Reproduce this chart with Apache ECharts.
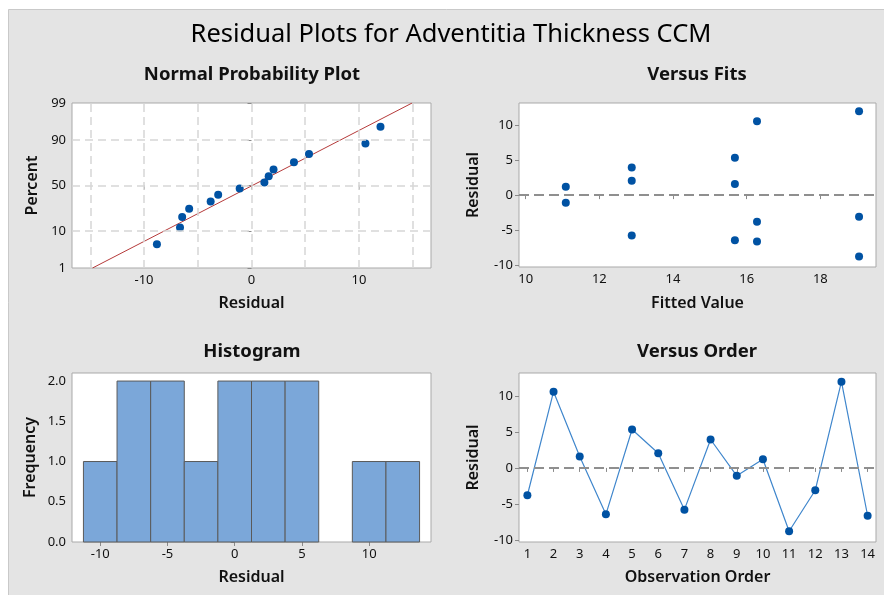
<!DOCTYPE html>
<html>
<head>
<meta charset="utf-8">
<script src="https://cdn.jsdelivr.net/npm/echarts@6/dist/echarts.min.js"></script>
<style>
  html, body { margin: 0; padding: 0; background: #ffffff; }
  #chart { width: 884px; height: 595px; }
</style>
</head>
<body>
<div id="chart"></div>
<script>
// Residuals of the fitted model, in observation order
const observationOrder = [1, 2, 3, 4, 5, 6, 7, 8, 9, 10, 11, 12, 13, 14];
const residuals = [-3.8, 10.6, 1.6, -6.45, 5.35, 2.05, -5.8, 3.95, -1.1, 1.2, -8.8, -3.1, 12.0, -6.65];
const fittedValues = [16.28, 16.28, 15.68, 15.68, 15.68, 12.88, 12.88, 12.88, 11.09, 11.09, 19.05, 19.05, 19.05, 16.28];

// Tick labels
const percentTicks = [1, 10, 50, 90, 99];
const nppResidualTicks = [-10, 0, 10];
const nppGridResiduals = [-15, -10, -5, 0, 5, 10, 15];
const residualTicks = [-10, -5, 0, 5, 10];
const fitTicks = [10, 12, 14, 16, 18];
const histTicks = [-10, -5, 0, 5, 10];
const freqTicks = [0, 0.5, 1, 1.5, 2];

// Histogram bins
const histBinStart = -11.25;
const histBinWidth = 2.5;
const histBinCount = 10;

const FONT = '"Noto Sans", "Open Sans", sans-serif';
const POINT_BLUE = '#0052a3';

// Inverse standard normal CDF (Acklam's rational approximation)
function normInv(p) {
  const a = [-3.969683028665376e+01, 2.209460984245205e+02, -2.759285104469687e+02, 1.383577518672690e+02, -3.066479806614716e+01, 2.506628277459239e+00];
  const b = [-5.447609879822406e+01, 1.615858368580409e+02, -1.556989798598866e+02, 6.680131188771972e+01, -1.328068155288572e+01];
  const c = [-7.784894002430293e-03, -3.223964580411365e-01, -2.400758277161838e+00, -2.549732539343734e+00, 4.374664141464968e+00, 2.938163982698783e+00];
  const d = [7.784695709041462e-03, 3.224671290700398e-01, 2.445134137142996e+00, 3.754408661907416e+00];
  const pl = 0.02425;
  if (p < pl) {
    const q = Math.sqrt(-2 * Math.log(p));
    return (((((c[0]*q+c[1])*q+c[2])*q+c[3])*q+c[4])*q+c[5]) / ((((d[0]*q+d[1])*q+d[2])*q+d[3])*q+1);
  }
  if (p > 1 - pl) {
    const q = Math.sqrt(-2 * Math.log(1 - p));
    return -(((((c[0]*q+c[1])*q+c[2])*q+c[3])*q+c[4])*q+c[5]) / ((((d[0]*q+d[1])*q+d[2])*q+d[3])*q+1);
  }
  const q = p - 0.5, r = q * q;
  return (((((a[0]*r+a[1])*r+a[2])*r+a[3])*r+a[4])*r+a[5])*q / (((((b[0]*r+b[1])*r+b[2])*r+b[3])*r+b[4])*r+1);
}

// Normal probability plot: sorted residuals against normal scores
const n = residuals.length;
const sorted = residuals.slice().sort((x, y) => x - y);
const nppPoints = sorted.map((r, i) => [r, normInv((i + 1 - 0.3) / (n + 0.4))]);
const mean = residuals.reduce((s, v) => s + v, 0) / n;
const sd = Math.sqrt(residuals.reduce((s, v) => s + (v - mean) * (v - mean), 0) / (n - 1));
const zLow = normInv(percentTicks[0] / 100);
const zHigh = normInv(percentTicks[percentTicks.length - 1] / 100);
const fitLine = [[mean + sd * zLow, zLow], [mean + sd * zHigh, zHigh]];
const percentZ = percentTicks.map(p => normInv(p / 100));

// Histogram counts
const histBins = [];
for (let i = 0; i < histBinCount; i++) {
  const lo = histBinStart + i * histBinWidth, hi = lo + histBinWidth;
  const count = residuals.filter(r => r >= lo && r < hi).length;
  if (count > 0) histBins.push([lo, hi, count]);
}

const fitsPoints = fittedValues.map((f, i) => [f, residuals[i]]);
const orderPoints = observationOrder.map((o, i) => [o, residuals[i]]);

const labelStyle = { color: '#111', fontSize: 13, fontFamily: FONT, margin: 6 };
const tickStyle = { show: true, length: 4, lineStyle: { color: '#8a8a8a', width: 1 } };
const nameStyle = { color: '#111', fontSize: 16, fontWeight: 600, fontFamily: FONT };
const dashGrid = { color: '#d6d6d6', width: 1.5, type: [8, 5] };
const zeroLine = { color: '#8f8f8f', width: 2, type: [10, 5] };
const titleFont = 'bold 18.5px ' + FONT;

const gridBox = { show: true, backgroundColor: '#ffffff', borderColor: '#a9a9a9', borderWidth: 1 };

function valueAxis(gridIndex, min, max, ticks, extra) {
  return Object.assign({
    type: 'value', gridIndex, min, max, scale: true,
    axisLine: { show: false },
    axisTick: Object.assign({ customValues: ticks }, tickStyle),
    axisLabel: Object.assign({ customValues: ticks }, labelStyle),
    splitLine: { show: false },
    nameLocation: 'middle',
    nameTextStyle: nameStyle
  }, extra || {});
}

const chart = echarts.init(document.getElementById('chart'));
chart.setOption({
  backgroundColor: '#ffffff',
  animation: false,
  graphic: [
    { type: 'rect', z: -10, shape: { x: 8.5, y: 9.5, width: 880, height: 590 },
      style: { fill: '#e4e4e4', stroke: '#c9c9c9', lineWidth: 1 } },
    { type: 'text', x: 451, y: 35, style: { text: 'Residual Plots for Adventitia Thickness CCM', align: 'center', verticalAlign: 'middle', font: '25.5px ' + FONT, fill: '#000' } },
    { type: 'text', x: 252, y: 75, style: { text: 'Normal Probability Plot', align: 'center', verticalAlign: 'middle', font: titleFont, fill: '#111' } },
    { type: 'text', x: 697, y: 75, style: { text: 'Versus Fits', align: 'center', verticalAlign: 'middle', font: titleFont, fill: '#111' } },
    { type: 'text', x: 252, y: 352, style: { text: 'Histogram', align: 'center', verticalAlign: 'middle', font: titleFont, fill: '#111' } },
    { type: 'text', x: 697, y: 352, style: { text: 'Versus Order', align: 'center', verticalAlign: 'middle', font: titleFont, fill: '#111' } }
  ],
  grid: [
    Object.assign({ left: 72, top: 103, width: 359, height: 165 }, gridBox),
    Object.assign({ left: 519, top: 103, width: 357, height: 164 }, gridBox),
    Object.assign({ left: 72, top: 373, width: 359, height: 169 }, gridBox),
    Object.assign({ left: 519, top: 373, width: 357, height: 169 }, gridBox)
  ],
  xAxis: [
    valueAxis(0, -16.7, 16.7, nppResidualTicks, { name: 'Residual', nameGap: 27 }),
    valueAxis(1, 9.82, 19.51, fitTicks, { name: 'Fitted Value', nameGap: 28 }),
    valueAxis(2, -12.1, 14.6, histTicks, { name: 'Residual', nameGap: 27 }),
    valueAxis(3, 0.68, 14.32, observationOrder, { name: 'Observation Order', nameGap: 27 })
  ],
  yAxis: [
    valueAxis(0, zLow, zHigh, percentZ, {
      name: 'Percent', nameGap: 32,
      axisLabel: Object.assign({
        customValues: percentZ,
        formatter: v => {
          let best = 0;
          percentZ.forEach((z, i) => { if (Math.abs(z - v) < Math.abs(percentZ[best] - v)) best = i; });
          return String(percentTicks[best]);
        }
      }, labelStyle)
    }),
    valueAxis(1, -10.3, 13.2, residualTicks, { name: 'Residual', nameGap: 38 }),
    valueAxis(2, 0, 2.1, freqTicks, {
      name: 'Frequency', nameGap: 34,
      axisLabel: Object.assign({ customValues: freqTicks, formatter: v => v.toFixed(1) }, labelStyle)
    }),
    valueAxis(3, -10.3, 13.2, residualTicks, { name: 'Residual', nameGap: 38 })
  ],
  series: [
    {
      type: 'line', xAxisIndex: 0, yAxisIndex: 0, data: fitLine, z: 2,
      symbol: 'none', lineStyle: { color: '#b53a3a', width: 1 }, silent: true,
      markLine: {
        silent: true, symbol: 'none', label: { show: false }, lineStyle: dashGrid,
        data: nppGridResiduals.map(x => ({ xAxis: x })).concat(percentZ.slice(1, -1).map(y => ({ yAxis: y })))
      }
    },
    {
      type: 'scatter', xAxisIndex: 0, yAxisIndex: 0, data: nppPoints, z: 3,
      symbol: 'circle', symbolSize: 8, itemStyle: { color: POINT_BLUE, opacity: 1 }
    },
    {
      type: 'scatter', xAxisIndex: 1, yAxisIndex: 1, data: fitsPoints, z: 3,
      symbol: 'circle', symbolSize: 8, itemStyle: { color: POINT_BLUE, opacity: 1 },
      markLine: { silent: true, symbol: 'none', label: { show: false }, lineStyle: zeroLine, data: [{ yAxis: 0 }] }
    },
    {
      type: 'custom', xAxisIndex: 2, yAxisIndex: 2, data: histBins,
      encode: { x: [0, 1], y: 2 },
      renderItem: (params, api) => {
        const p0 = api.coord([api.value(0), api.value(2)]);
        const p1 = api.coord([api.value(1), 0]);
        return {
          type: 'rect',
          shape: { x: p0[0], y: p0[1], width: p1[0] - p0[0], height: p1[1] - p0[1] },
          style: { fill: '#7ba7d9', stroke: '#5a5a5a', lineWidth: 1 }
        };
      }
    },
    {
      type: 'line', xAxisIndex: 3, yAxisIndex: 3, data: orderPoints, z: 3,
      symbol: 'circle', symbolSize: 8, showAllSymbol: true,
      lineStyle: { color: '#3f86cc', width: 1.2 },
      itemStyle: { color: POINT_BLUE, opacity: 1 },
      markLine: { silent: true, symbol: 'none', label: { show: false }, lineStyle: zeroLine, data: [{ yAxis: 0 }] }
    }
  ]
});
</script>
</body>
</html>
